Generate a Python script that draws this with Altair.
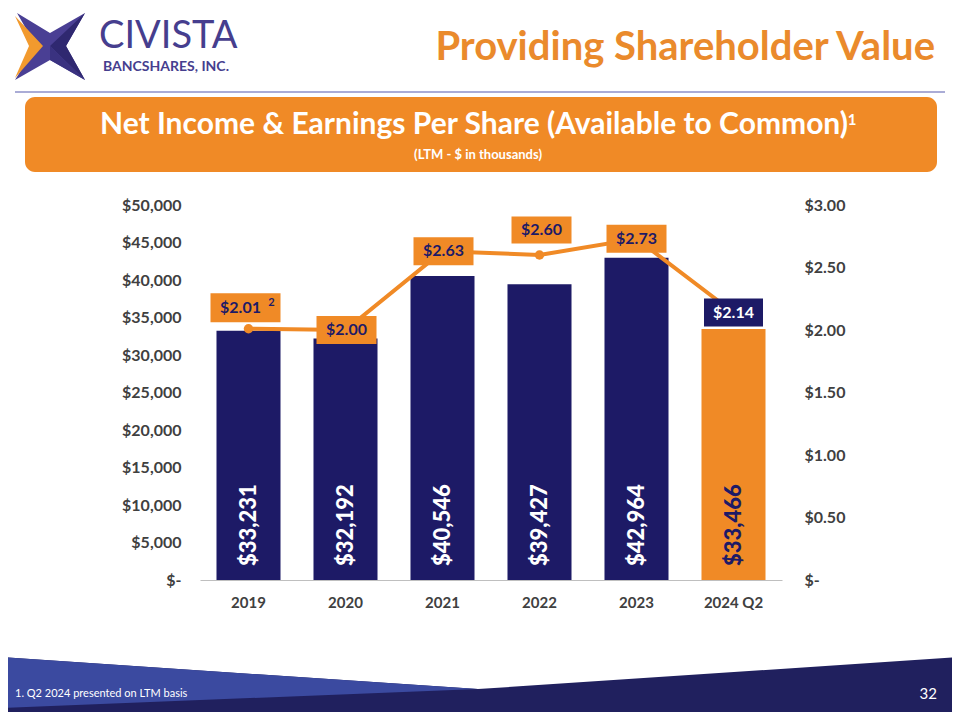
import altair as alt
import pandas as pd

# ---------------- data ----------------
categories = ["2019", "2020", "2021", "2022", "2023", "2024 Q2"]
net_income = [33231, 32192, 40546, 39427, 42964, 33466]
eps = [2.01, 2.00, 2.63, 2.60, 2.73, 2.14]
income_ticks = [0, 5000, 10000, 15000, 20000, 25000, 30000, 35000, 40000, 45000, 50000]
eps_ticks = [0, 0.5, 1.0, 1.5, 2.0, 2.5, 3.0]
highlight = "2024 Q2"

# ---------------- layout / style ----------------
FONT = "Lato"
NAVY = "#1D1A66"
ORANGE = "#F08A26"
TITLE_ORANGE = "#EA8A2C"
GRAY = "#404040"
PURPLE = "#463E8E"

OX, OY = 200, 205          # page position of the plot origin
PW, PH = 582, 375          # plot area

def px(x):
    return x - OX

def py(y):
    return y - OY

# label box offsets (pixels) per category and box widths
label_dx = [-3, 1, 1, 2, 0, 0]
label_dy = [-21, 0, 0, -25, 0, 0]
label_w = [70, 60, 60, 60, 60, 59]
label_h = [29, 28, 28, 27, 28, 28]

df = pd.DataFrame({"category": categories, "income": net_income, "eps": eps})
df["income_label"] = ["$" + f"{v:,}" for v in net_income]
df["eps_label"] = [f"${v:.2f}" for v in eps]
one = pd.DataFrame({"a": [0]})

x_scale = alt.Scale(domain=categories, paddingInner=0.34, paddingOuter=0.17)
inc_scale = alt.Scale(domain=[0, 50000], nice=False)
eps_scale = alt.Scale(domain=[0, 3], nice=False)

x_axis = alt.Axis(title=None, labelAngle=0, ticks=False, labelFont=FONT, labelFontSize=15,
                  labelFontWeight="bold", labelColor=GRAY, labelPadding=15,
                  domainColor="#BFBFBF", domainWidth=1.2, grid=False)
inc_axis = alt.Axis(title=None, orient="left", values=income_ticks, domain=False, ticks=False,
                    grid=False, labelFont=FONT, labelFontSize=16, labelFontWeight="bold",
                    labelColor=GRAY, labelPadding=19,
                    labelExpr="datum.value == 0 ? '$-' : '$' + format(datum.value, ',')")
eps_axis = alt.Axis(title=None, orient="right", values=eps_ticks, domain=False, ticks=False,
                    grid=False, labelFont=FONT, labelFontSize=16, labelFontWeight="bold",
                    labelColor=GRAY, labelPadding=22, labelAlign="left",
                    labelExpr="datum.value == 0 ? '$-' : '$' + format(datum.value, '.2f')")

X = alt.X("category:N", sort=categories, scale=x_scale, axis=x_axis)
Y_INC = alt.Y("income:Q", scale=inc_scale, axis=inc_axis)
Y_EPS = alt.Y("eps:Q", scale=eps_scale, axis=eps_axis)

is_hl = alt.datum.category == highlight

# ---------------- income layer ----------------
bars = alt.Chart(df).mark_bar().encode(
    x=X, y=Y_INC,
    color=alt.condition(is_hl, alt.value(ORANGE), alt.value(NAVY)),
)
bar_text = alt.Chart(df).mark_text(angle=270, align="left", baseline="middle", font=FONT,
                                   fontSize=22, fontWeight=900).encode(
    x=X, y=alt.value(py(566)), text="income_label:N",
    color=alt.condition(is_hl, alt.value(NAVY), alt.value("white")),
)
income_layer = alt.layer(bars, bar_text)

# ---------------- eps layer ----------------
line = alt.Chart(df).mark_line(color=ORANGE, strokeWidth=4).encode(x=X, y=Y_EPS)
dots = alt.Chart(df).mark_circle(color=ORANGE, size=90, opacity=1).encode(x=X, y=Y_EPS)

eps_layers = [line, dots]
for i, cat in enumerate(categories):
    w, h = label_w[i], label_h[i]
    path = f"M{-w/2},{-h/2}L{w/2},{-h/2}L{w/2},{h/2}L{-w/2},{h/2}Z"
    hl = cat == highlight
    box = alt.Chart(df).transform_filter(alt.datum.category == cat).mark_point(
        shape=path, size=4, filled=True, opacity=1, strokeWidth=0,
        color=NAVY if hl else ORANGE, xOffset=label_dx[i], yOffset=label_dy[i],
    ).encode(x=X, y=Y_EPS)
    txt = alt.Chart(df).transform_filter(alt.datum.category == cat).mark_text(
        font=FONT, fontSize=16, fontWeight="bold", align="center", baseline="middle",
        color="white" if hl else NAVY, dx=label_dx[i] - (5 if i == 0 else 0), dy=label_dy[i],
    ).encode(x=X, y=Y_EPS, text="eps_label:N")
    eps_layers += [box, txt]
    if i == 0:
        sup = alt.Chart(df).transform_filter(alt.datum.category == cat).mark_text(
            font=FONT, fontSize=11, fontWeight="bold", align="center", baseline="middle",
            color=NAVY, dx=label_dx[i] + 26, dy=label_dy[i] - 5, text="2",
        ).encode(x=X, y=Y_EPS)
        eps_layers.append(sup)
eps_layer = alt.layer(*eps_layers)

# ---------------- decorations ----------------
def poly(points, color):
    path = "M" + "L".join(f"{x},{y}" for x, y in points) + "Z"
    return alt.Chart(one).mark_point(shape=path, size=4, filled=True, opacity=1,
                                     strokeWidth=0, color=color).encode(
        x=alt.value(-OX), y=alt.value(-OY))

def text(t, x, y, size, color, weight="bold", align="left", baseline="alphabetic"):
    return alt.Chart(one).mark_text(text=t, font=FONT, fontSize=size, fontWeight=weight,
                                    color=color, align=align, baseline=baseline).encode(
        x=alt.value(px(x)), y=alt.value(py(y)))

decor = [
    # logo star
    poly([(17, 13), (50, 33), (85, 13), (66, 46), (85, 80), (50, 60), (15, 80), (36, 46)], "#4A3F94"),
    poly([(50, 46), (85, 13), (66, 46), (85, 80)], "#2F2870"),
    poly([(50, 46), (85, 80), (50, 60)], "#3A3280"),
    poly([(15, 16), (43, 46), (15, 78), (29, 46)], "#F29A2E"),
    text("CIVISTA", 99, 48, 38, PURPLE, weight="normal"),
    text("BANCSHARES, INC.", 103, 71, 14, PURPLE, weight="bold"),
    # title
    text("Providing Shareholder Value", 935, 60, 40, TITLE_ORANGE, align="right"),
    # separator line
    alt.Chart(one).mark_rule(color="#8E91C9", strokeWidth=1.5).encode(
        x=alt.value(px(15)), x2=alt.value(px(945)), y=alt.value(py(92))),
    # banner
    alt.Chart(one).mark_rect(cornerRadius=10, color=ORANGE).encode(
        x=alt.value(px(25)), x2=alt.value(px(937)), y=alt.value(py(97)), y2=alt.value(py(172))),
    text("Net Income & Earnings Per Share (Available to Common)", 474, 134, 30, "white",
         align="center"),
    text("1", 852, 125, 15, "white", align="center"),
    text("(LTM - $ in thousands)", 478, 159, 13, "white", align="center"),
    # footer
    poly([(0, 657), (478, 689), (960, 657), (960, 730), (0, 730)], "#20205E"),
    poly([(0, 657), (478, 689), (0, 708)], "#3B4AA0"),
    text("1. Q2 2024 presented on LTM basis", 15, 697, 11, "white", weight="normal"),
    text("32", 937, 699, 15, "white", weight="normal", align="right"),
]

chart = alt.layer(*decor, income_layer, eps_layer).resolve_scale(y="independent").properties(
    width=PW, height=PH,
    autosize=alt.AutoSizeParams(type="none"),
    padding={"left": OX - 8, "top": OY - 8, "right": 944 - (OX - 8) - PW,
             "bottom": 704 - (OY - 8) - PH},
    background="white",
).configure_view(stroke=None)

chart.save("out.html", embed_options={"renderer": "svg", "actions": False})
